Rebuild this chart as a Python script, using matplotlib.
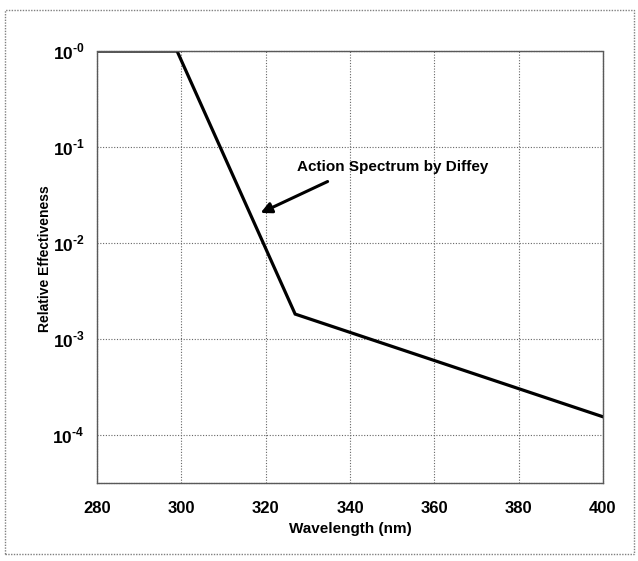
import matplotlib.pyplot as plt
from matplotlib.patches import Rectangle

plt.rcParams['font.family'] = ['Liberation Sans', 'DejaVu Sans']
plt.rcParams['font.weight'] = 'bold'
plt.rcParams['mathtext.fontset'] = 'custom'
plt.rcParams['mathtext.rm'] = 'Liberation Sans:bold'
plt.rcParams['mathtext.bf'] = 'Liberation Sans:bold'

# Diffey action spectrum
wavelength = [280, 299, 327, 400]
effectiveness = [1.0, 1.0, 1.82e-3, 1.55e-4]

x_ticks = [280, 300, 320, 340, 360, 380, 400]
y_ticks = [1e0, 1e-1, 1e-2, 1e-3, 1e-4]
y_tick_labels = [r'$10^{\text{-}0}$', r'$10^{\text{-}1}$', r'$10^{\text{-}2}$',
                 r'$10^{\text{-}3}$', r'$10^{\text{-}4}$']

fig = plt.figure(figsize=(6.38, 5.61), dpi=100)
ax = fig.add_axes([0.152, 0.139, 0.793, 0.770])

ax.plot(wavelength, effectiveness, color='black', lw=2.3, solid_joinstyle='miter')

ax.set_yscale('log')
ax.set_xlim(280, 400)
ax.set_ylim(10 ** -4.5, 1.0)
ax.set_xticks(x_ticks)
ax.set_xticklabels([str(t) for t in x_ticks])
ax.set_yticks(y_ticks)
ax.set_yticklabels(y_tick_labels)
ax.minorticks_off()
ax.tick_params(axis='x', length=0, pad=13, labelsize=12)
ax.tick_params(axis='y', length=0, pad=9, labelsize=12.5)

ax.grid(True, color='0.4', linestyle=(0, (1, 1.5)), lw=0.8)
for sp in ax.spines.values():
    sp.set_color('0.35')
    sp.set_linestyle((0, (1, 0.8)))
    sp.set_linewidth(1.0)

ax.set_xlabel('Wavelength (nm)', fontsize=11, fontweight='bold', labelpad=4)
ax.set_ylabel('Relative Effectiveness', fontsize=10, fontweight='bold')
ax.yaxis.set_label_coords(-0.089, 0.52)

ax.text(350.2, 0.062, 'Action Spectrum by Diffey', fontsize=11, fontweight='bold',
        ha='center', va='center')
ax.annotate('', xy=(318.2, 0.02), xytext=(335.3, 0.045),
            arrowprops=dict(arrowstyle='-|>', color='black', lw=2.2, mutation_scale=16))

# dotted frame round the whole scanned figure
fig.patches.append(Rectangle((0.008, 0.012), 0.985, 0.97, transform=fig.transFigure,
                             fill=False, edgecolor='0.5', linestyle=(0, (1, 1)), lw=1.0))

fig.savefig('out.png', dpi=100)
